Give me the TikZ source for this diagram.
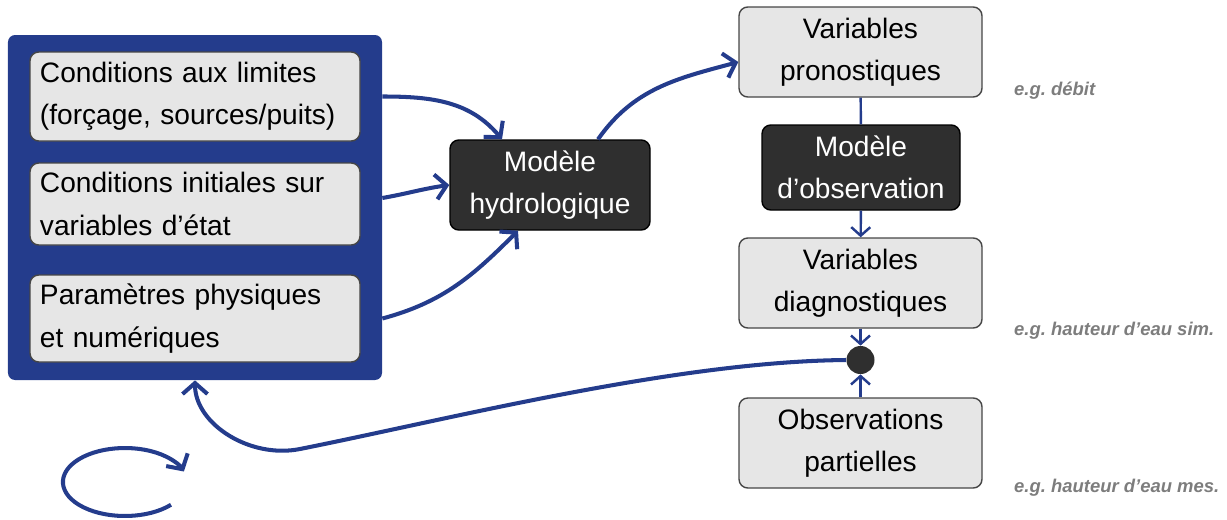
\documentclass[tikz,border=0pt]{standalone}
\usepackage{fontspec}
\setmainfont{Liberation Sans}
\usetikzlibrary{arrows.meta}
\definecolor{schemablue}{RGB}{36,60,140}
\definecolor{boxgray}{RGB}{230,230,230}
\definecolor{boxline}{RGB}{70,70,70}
\definecolor{modelgray}{RGB}{47,47,47}
\definecolor{notegray}{RGB}{125,125,125}
\frenchspacing

\begin{document}
\begin{tikzpicture}[
  font=\fontsize{16}{24}\selectfont,
  inbox/.style={draw=boxline, fill=boxgray, rounded corners=5pt, line width=0.8pt,
    text width=6.2cm, align=left, inner xsep=0.2cm},
  varbox/.style={draw=boxline, fill=boxgray, rounded corners=5pt, line width=0.8pt,
    align=center, minimum width=4.86cm, minimum height=1.8cm},
  modelbox/.style={draw=black, fill=modelgray, text=white, rounded corners=5pt,
    line width=0.8pt, align=center},
  note/.style={text=notegray, font=\fontsize{10.5}{12}\selectfont\bfseries\itshape,
    anchor=base west},
  flow/.style={draw=schemablue, line width=2.3pt,
    -{Straight Barb[length=2.2mm,width=5mm]}},
  link/.style={draw=schemablue, line width=1.4pt},
  thinflow/.style={link, -{Straight Barb[length=1.7mm,width=3.8mm]}},
]
   \useasboundingbox (0,0) rectangle (24.54,10.38);

   % left block: inputs of the model
   \node[fill=schemablue, rounded corners=4pt, minimum width=7.48cm,
     minimum height=6.9cm] (inputs) at (3.90,6.23) {};
   \node[inbox, minimum height=1.78cm] (cond1) at (3.90,8.45)
     {Conditions aux limites\\(forçage, sources/puits)};
   \node[inbox, minimum height=1.64cm] (cond2) at (3.90,6.30)
     {Conditions initiales sur\\variables d’état};
   \node[inbox, minimum height=1.74cm] (cond3) at (3.90,4.01)
     {Paramètres physiques\\et numériques};

   \node[modelbox, minimum width=4cm, minimum height=1.8cm] (hydro) at (11.0,6.68)
     {Modèle\\hydrologique};

   % right column
   \node[varbox] (pron) at (17.21,9.34) {Variables\\pronostiques};
   \node[modelbox, minimum width=3.96cm, minimum height=1.7cm] (obsmodel) at (17.22,7.03)
     {Modèle\\d’observation};
   \node[varbox] (diag) at (17.21,4.72) {Variables\\diagnostiques};
   \node[circle, fill=modelgray, minimum size=0.56cm, inner sep=0pt] (dot) at (17.21,3.18) {};
   \node[varbox] (obs) at (17.21,1.52) {Observations\\partielles};

   \node[note] (notepron) at (20.16,8.48) {e.g. débit};
   \node[note] (notediag) at (20.16,3.68) {e.g. hauteur d’eau sim.};
   \node[note] (noteobs) at (20.16,0.54) {e.g. hauteur d’eau mes.};

   \draw[flow] (inputs.east |- cond1) to[out=0,in=130] ([xshift=-0.96cm]hydro.north);
   \draw[flow] ([yshift=0.12cm]inputs.east |- cond2) to[out=10,in=188] (hydro.west);
   \draw[flow] (inputs.east |- cond3) to[out=15,in=225] ([xshift=-0.64cm]hydro.south);
   \draw[flow] ([xshift=0.96cm]hydro.north) to[out=55,in=195] ([yshift=-0.2cm]pron.west);

   \draw[link] (pron) -- (obsmodel);
   \draw[thinflow] (obsmodel) -- (diag);
   \draw[thinflow] (diag) -- (dot);
   \draw[thinflow] (obs) -- (dot);

   % feedback loop
   \draw[flow] (dot.west) .. controls (13.5,3.15) and (9,2.0) .. (6.0,1.4)
     .. controls (5.0,1.2) and (3.9,1.9) .. (inputs.south);
   \draw[flow] (3.42,0.285) arc[start angle=-42, end angle=-342,
     x radius=1.24cm, y radius=0.68cm];
\end{tikzpicture}
\end{document}
